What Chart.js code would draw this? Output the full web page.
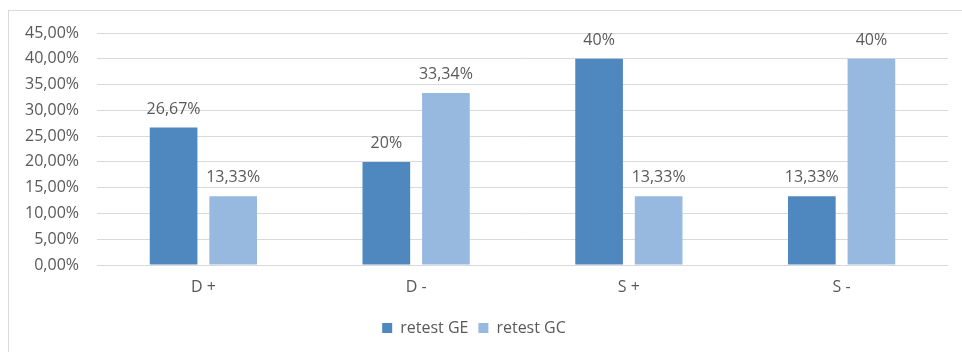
<!DOCTYPE html>
<html>
<head>
<meta charset="utf-8">
<script src="https://cdn.jsdelivr.net/npm/chart.js@4/dist/chart.umd.min.js"></script>
<style>
  html, body { margin: 0; padding: 0; background: #ffffff; }
  #wrap { position: relative; width: 962px; height: 352px; overflow: hidden; }
  #frame { position: absolute; left: 8px; top: 10px; width: 1000px; height: 400px;
           border-top: 1px solid #D9D9D9; border-left: 1px solid #D9D9D9; box-sizing: border-box; }
  canvas { position: absolute; left: 0; top: 0; }
</style>
</head>
<body>
<div id="wrap">
  <div id="frame"></div>
  <canvas id="c" width="962" height="352"></canvas>
</div>
<script>
// Categories, series and value labels
const categories = ['D +', 'D -', 'S +', 'S -'];
const retestGE = [26.67, 20, 40, 13.33];
const retestGC = [13.33, 33.34, 13.33, 40];
const labelsGE = ['26,67%', '20%', '40%', '13,33%'];
const labelsGC = ['13,33%', '33,34%', '13,33%', '40%'];
const yTicks = [0, 5, 10, 15, 20, 25, 30, 35, 40, 45];

const FONT = 'Open Sans';
const TEXT = '#595959';
const SIZE = 16;

// Writes the value label above each bar
const valueLabels = {
  id: 'valueLabels',
  afterDatasetsDraw(chart) {
    const ctx = chart.ctx;
    ctx.save();
    ctx.font = SIZE + 'px "' + FONT + '"';
    ctx.fillStyle = TEXT;
    ctx.textAlign = 'center';
    ctx.textBaseline = 'alphabetic';
    chart.data.datasets.forEach((ds, di) => {
      const meta = chart.getDatasetMeta(di);
      meta.data.forEach((bar, i) => {
        ctx.fillText(ds.valueText[i], bar.x, bar.y - 14);
      });
    });
    ctx.restore();
  }
};

new Chart(document.getElementById('c'), {
  type: 'bar',
  data: {
    labels: categories,
    datasets: [
      { label: 'retest GE', data: retestGE, valueText: labelsGE,
        backgroundColor: '#4F88BE', borderWidth: 0 },
      { label: 'retest GC', data: retestGC, valueText: labelsGC,
        backgroundColor: '#97B9E0', borderWidth: 0 }
    ]
  },
  options: {
    responsive: false,
    animation: false,
    devicePixelRatio: 1,
    layout: { padding: { left: 0, right: 14, top: 33, bottom: 6 } },
    datasets: { bar: { categoryPercentage: 0.56, barPercentage: 0.8 } },
    scales: {
      x: {
        grid: { display: false, drawTicks: false },
        border: { display: false },
        ticks: { color: TEXT, font: { family: FONT, size: SIZE }, padding: 13 },
        afterFit(s) { s.height = 45; }
      },
      y: {
        min: 0, max: 45,
        afterBuildTicks(s) { s.ticks = yTicks.map(v => ({ value: v })); },
        grid: { color: '#D9D9D9', lineWidth: 1, drawTicks: false },
        border: { display: false },
        ticks: {
          color: TEXT, font: { family: FONT, size: SIZE }, padding: 18,
          callback: v => v.toFixed(2).replace('.', ',') + '%'
        },
        afterFit(s) { s.width = 97; }
      }
    },
    plugins: {
      legend: {
        position: 'bottom',
        labels: { color: TEXT, font: { family: FONT, size: SIZE },
                  boxWidth: 10, boxHeight: 10, padding: 10 }
      },
      tooltip: { enabled: false }
    }
  },
  plugins: [valueLabels]
});
</script>
</body>
</html>
